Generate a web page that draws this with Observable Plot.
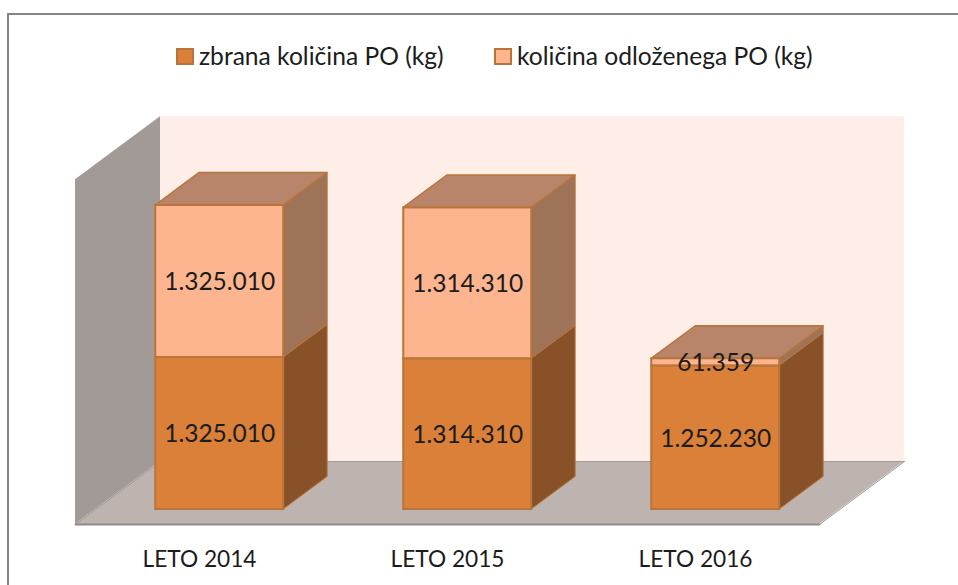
<!DOCTYPE html>
<html>
<head>
<meta charset="utf-8">
<script src="https://cdn.jsdelivr.net/npm/d3@7"></script>
<script src="https://cdn.jsdelivr.net/npm/@observablehq/plot@0.6"></script>
<style>
html,body{margin:0;padding:0;background:#fff;overflow:hidden}
#page{position:relative;width:958px;height:585px;overflow:hidden;font-family:Lato,sans-serif}
#frame{position:absolute;left:7px;top:13px;width:1000px;height:620px;border:3px solid #868686;border-width:2.5px;box-sizing:border-box;pointer-events:none}
#legend{position:relative;height:100px;color:#1c1c1c;font-size:24.6px}
.item{position:absolute;top:40px;display:flex;align-items:center;height:30px;white-space:nowrap}
.sw{width:18px;height:17px;box-sizing:border-box;border:2.5px solid #b8743a;margin-right:5px;margin-top:2px}
#chart{display:block}
#chart svg{display:block}
</style>
</head>
<body>
<div id="page">
  <div id="frame"></div>
  <div id="legend"></div>
  <div id="chart"></div>
</div>
<script>
const categories = ["LETO 2014", "LETO 2015", "LETO 2016"];
const seriesNames = ["zbrana količina PO (kg)", "količina odloženega PO (kg)"];
const zbrana = [1325010, 1314310, 1252230];
const odlozena = [1325010, 1314310, 61359];

const frontColors = ["#da8038", "#fcb58e"];
const sideColors = ["#885127", "#9e7358"];
const topColor = "#b9856a";
const edgeColor = "#b8743a";
const legendLeft = [176, 494];

// oblique projection of the 3D box: depth z runs 0 (front of floor) .. 1 (back wall)
const depthX = 0.3427;
const depthKg = 549000;
const zFront = 0.238, zBack = 0.755;
const halfBar = 0.258;
const wallTopKg = 3005000;

function z2kg(z) { return (z - zFront) * depthKg; }
const px = (x, z) => x + z * depthX;
const py = (kg, z) => kg + z2kg(z);

const fmt = d3.formatLocale({decimal: ",", thousands: ".", grouping: [3], currency: ["", ""]}).format(",d");

const sides = [], tops = [], fronts = [], labels = [];
categories.forEach((c, i) => {
  const l = i + 0.5 - halfBar, r = i + 0.5 + halfBar;
  const tiers = [[0, zbrana[i]], [zbrana[i], zbrana[i] + odlozena[i]]];
  tiers.forEach(([a, b], s) => {
    const face = `${c}-${s}`;
    sides.push({face, fill: sideColors[s], x: px(r, zFront), y1: py(a, zFront), y2: py(b, zFront)});
    sides.push({face, fill: sideColors[s], x: px(r, zBack), y1: py(a, zBack), y2: py(b, zBack)});
    fronts.push({fill: frontColors[s], x1: px(l, zFront), x2: px(r, zFront), y1: py(a, zFront), y2: py(b, zFront)});
    labels.push({text: fmt(b - a), x: px(i + 0.5, zFront), y: py((a + b) / 2, zFront)});
  });
  const total = zbrana[i] + odlozena[i];
  tops.push({face: c, y: py(total, zFront), x1: px(l, zFront), x2: px(r, zFront)});
  tops.push({face: c, y: py(total, zBack), x1: px(l, zBack), x2: px(r, zBack)});
});

const backWall = [0, 3].map(x => ({x: px(x, 1), y1: py(0, 1), y2: py(wallTopKg, 1)}));
const leftWall = [0, 1].map(z => ({x: px(0, z), y1: py(0, z), y2: py(wallTopKg, z)}));
const floor = [0, 1].map(z => ({y: py(0, z), x1: px(0, z), x2: px(3, z)}));
const floorFront = [0, 3].map(x => ({x: px(x, 0), y: py(0, 0)}));
const floorBack = [0, 3].map(x => ({x: px(x, 1), y: py(0, 1)}));
const leftEdge = [0, 1].map(z => ({x: px(0, z), y: py(0, z)}));
const rightEdge = [0, 1].map(z => ({x: px(3, z), y: py(0, z)}));

const kgPerPx = 2650020 / 304;
const plot = Plot.plot({
  width: 958,
  height: 485,
  marginTop: 15,
  marginBottom: 61,
  marginLeft: 75,
  marginRight: 139,
  style: {fontFamily: "Lato, sans-serif", background: "transparent", overflow: "visible"},
  x: {type: "linear", domain: [0, 3]},
  y: {type: "linear", domain: [-15 * kgPerPx, (509 - 115) * kgPerPx], axis: null},
  color: {type: "identity"},
  marks: [
    Plot.areaY(backWall, {x: "x", y1: "y1", y2: "y2", fill: "#feeee7"}),
    Plot.areaY(leftWall, {x: "x", y1: "y1", y2: "y2", fill: "#a29a96"}),
    Plot.areaX(floor, {y: "y", x1: "x1", x2: "x2", fill: "#bdb4b0"}),
    Plot.line(floorBack, {x: "x", y: "y", stroke: "#9a9a9a", strokeWidth: 1}),
    Plot.line(leftEdge, {x: "x", y: "y", stroke: "#9a9a9a", strokeWidth: 1}),
    Plot.line(rightEdge, {x: "x", y: "y", stroke: "#9a9a9a", strokeWidth: 1}),
    Plot.line(floorFront, {x: "x", y: "y", stroke: "#8c8c8c", strokeWidth: 2}),
    Plot.areaY(sides, {x: "x", y1: "y1", y2: "y2", z: "face", fill: "fill", stroke: edgeColor, strokeWidth: 1}),
    Plot.areaX(tops, {y: "y", x1: "x1", x2: "x2", z: "face", fill: topColor, stroke: edgeColor, strokeWidth: 1.5}),
    Plot.rect(fronts, {x1: "x1", x2: "x2", y1: "y1", y2: "y2", fill: "fill", stroke: edgeColor, strokeWidth: 2, inset: 0}),
    Plot.text(labels, {x: "x", y: "y", dy: 1, text: "text", fill: "#1c1c1c", fontSize: 24.5, textAnchor: "middle"}),
    Plot.axisX({
      anchor: "bottom",
      ticks: categories.map((c, i) => i + 0.5),
      tickFormat: d => categories[Math.floor(d)],
      tickSize: 0,
      tickPadding: 26,
      fontSize: 22.7,
      fill: "#1c1c1c",
      label: null
    })
  ]
});
document.getElementById("chart").appendChild(plot);

const legend = document.getElementById("legend");
seriesNames.forEach((name, i) => {
  const item = document.createElement("div");
  item.className = "item";
  item.style.left = legendLeft[i] + "px";
  const sw = document.createElement("span");
  sw.className = "sw";
  sw.style.background = frontColors[i];
  const t = document.createElement("span");
  t.textContent = name;
  item.append(sw, t);
  legend.appendChild(item);
});
</script>
</body>
</html>
